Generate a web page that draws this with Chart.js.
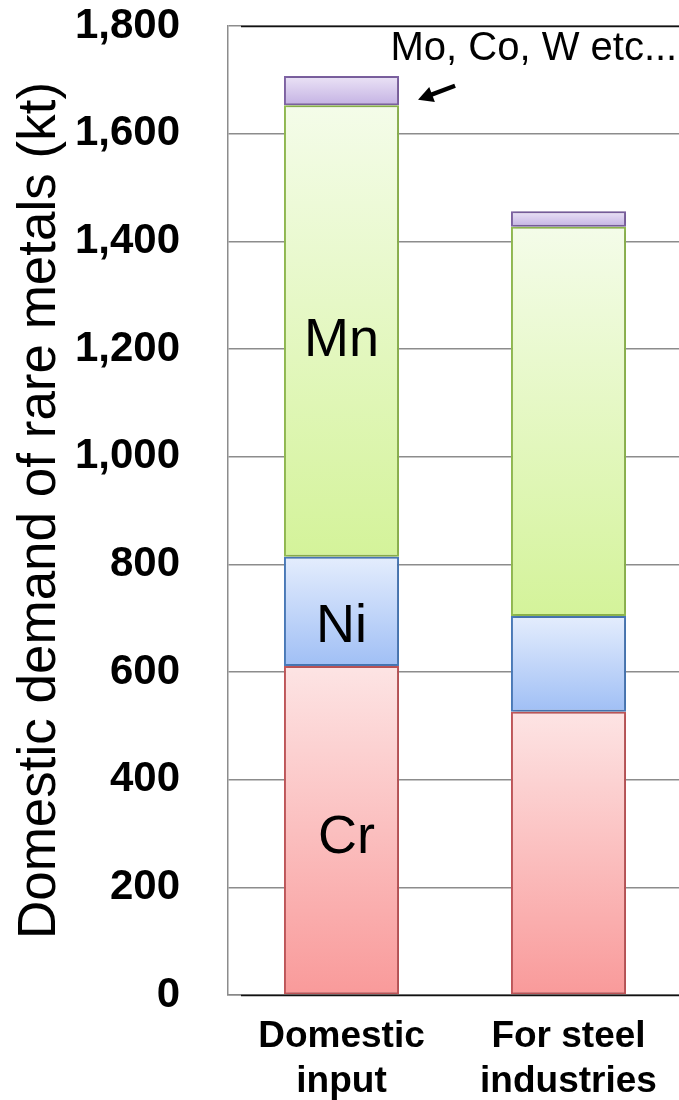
<!DOCTYPE html>
<html>
<head>
<meta charset="utf-8">
<script src="https://cdn.jsdelivr.net/npm/chart.js@4/dist/chart.umd.min.js"></script>
<style>
  html, body { margin: 0; padding: 0; background: #fff; overflow: hidden; }
  #wrap { width: 683px; height: 1100px; position: relative; }
</style>
</head>
<body>
<div id="wrap"><canvas id="c"></canvas></div>
<script>
// Domestic demand of rare metals (kt), stacked by metal
const categories = [['Domestic', 'input'], ['For steel', 'industries']];
const seriesNames = ['Cr', 'Ni', 'Mn', 'Mo, Co, W etc...'];
const crValues = [611, 526];
const niValues = [203, 178];
const mnValues = [839, 723];
const otherValues = [54, 29];
const yTicks = [0, 200, 400, 600, 800, 1000, 1200, 1400, 1600, 1800];

// labels written inside the first column, at these values
const inBarLabels = ['Cr', 'Ni', 'Mn'];
const inBarLabelValues = [292, 683, 1215];

const FONT = '"Liberation Sans", Arial, sans-serif';

// segment gradient colours: top (light) -> bottom (saturated), and border
const palette = [
  { top: '#fde4e4', bottom: '#f99a9a', border: '#c4575a' },
  { top: '#e4edfd', bottom: '#a0bff5', border: '#4a7cbd' },
  { top: '#f4fce9', bottom: '#d4f39a', border: '#93bd50' },
  { top: '#ebe3f6', bottom: '#c4b2e3', border: '#8064a6' }
];
const seriesValues = [crValues, niValues, mnValues, otherValues];

function segmentGradient(si) {
  return function (ctx) {
    const chart = ctx.chart;
    const p = palette[si];
    if (!chart.chartArea || ctx.dataIndex === undefined) return p.bottom;
    const i = ctx.dataIndex;
    let start = 0;
    for (let k = 0; k < si; k++) start += seriesValues[k][i];
    const end = start + seriesValues[si][i];
    const y = chart.scales.y;
    const g = chart.ctx.createLinearGradient(0, y.getPixelForValue(end), 0, y.getPixelForValue(start));
    g.addColorStop(0, p.top);
    g.addColorStop(1, p.bottom);
    return g;
  };
}

const datasets = seriesNames.map((name, si) => ({
  label: name,
  data: seriesValues[si],
  backgroundColor: segmentGradient(si),
  borderColor: palette[si].border,
  borderWidth: 2,
  borderSkipped: false,
  barPercentage: 1,
  categoryPercentage: 0.507
}));

const decorations = {
  id: 'decorations',
  beforeDatasetsDraw(chart) {
    // soft drop shadow around the columns
    const ctx = chart.ctx;
    ctx.save();
    ctx.shadowColor = 'rgba(0,0,0,0.22)';
    ctx.shadowBlur = 5;
    ctx.shadowOffsetX = 1;
    ctx.shadowOffsetY = 0;
  },
  afterDatasetsDraw(chart) {
    const { ctx, chartArea, scales } = chart;
    ctx.restore();
    ctx.save();
    // dark frame lines at top and base
    ctx.strokeStyle = '#111';
    ctx.lineWidth = 1.5;
    ctx.beginPath();
    ctx.moveTo(chartArea.left + 13, chartArea.top + 0.5);
    ctx.lineTo(chartArea.right, chartArea.top + 0.5);
    ctx.moveTo(chartArea.left + 13, chartArea.bottom + 0.5);
    ctx.lineTo(chartArea.right, chartArea.bottom + 0.5);
    ctx.stroke();

    // names inside the first column
    const bar = chart.getDatasetMeta(0).data[0];
    ctx.fillStyle = '#000';
    ctx.font = '54px ' + FONT;
    ctx.textAlign = 'center';
    ctx.textBaseline = 'middle';
    inBarLabels.forEach((t, k) => {
      const dx = t === 'Cr' ? 5 : 0;
      ctx.fillText(t, bar.x + dx, scales.y.getPixelForValue(inBarLabelValues[k]));
    });

    // callout for the small top segment
    const top = chart.getDatasetMeta(3).data[0];
    ctx.font = '40px ' + FONT;
    ctx.textAlign = 'left';
    ctx.textBaseline = 'middle';
    ctx.fillText(seriesNames[3], top.x + 49, chartArea.top + 23);

    const tipX = top.x + top.width / 2 + 19;
    const tipY = scales.y.getPixelForValue(1663);
    const tailX = tipX + 37, tailY = tipY - 14;
    const ang = Math.atan2(tipY - tailY, tipX - tailX);
    ctx.strokeStyle = '#000';
    ctx.lineWidth = 4.5;
    ctx.beginPath();
    ctx.moveTo(tailX, tailY);
    ctx.lineTo(tipX - 8 * Math.cos(ang), tipY - 8 * Math.sin(ang));
    ctx.stroke();
    ctx.fillStyle = '#000';
    ctx.beginPath();
    ctx.moveTo(tipX, tipY);
    ctx.lineTo(tipX - 15 * Math.cos(ang) + 8 * Math.sin(ang), tipY - 15 * Math.sin(ang) - 8 * Math.cos(ang));
    ctx.lineTo(tipX - 15 * Math.cos(ang) - 8 * Math.sin(ang), tipY - 15 * Math.sin(ang) + 8 * Math.cos(ang));
    ctx.closePath();
    ctx.fill();
    ctx.restore();
  }
};

new Chart(document.getElementById('c'), {
  type: 'bar',
  data: { labels: categories, datasets },
  options: {
    responsive: true,
    maintainAspectRatio: false,
    animation: false,
    layout: { padding: { top: 26, right: 1, left: 0, bottom: 0 } },
    plugins: { legend: { display: false }, tooltip: { enabled: false } },
    scales: {
      x: {
        stacked: true,
        afterFit(s) { s.height = 105; s.paddingLeft = 0; s.paddingRight = 0; },
        grid: { display: false, drawTicks: false },
        border: { display: true, color: '#888', width: 1.5 },
        ticks: {
          color: '#000',
          padding: 19,
          maxRotation: 0,
          font: { family: FONT, size: 37, weight: 'bold', lineHeight: 1.22 }
        }
      },
      y: {
        stacked: true,
        min: 0,
        max: 1800,
        afterFit(s) { s.width = 228; s.paddingTop = 0; s.paddingBottom = 0; },
        afterBuildTicks(s) { s.ticks = yTicks.map(v => ({ value: v })); },
        grid: { color: '#8c8c8c', lineWidth: 1.5, drawTicks: false },
        border: { display: true, color: '#8c8c8c', width: 1.5 },
        ticks: {
          color: '#000',
          padding: 48,
          font: { family: FONT, size: 42, weight: 'bold' },
          callback: v => v.toLocaleString('en-US')
        },
        title: {
          display: true,
          text: 'Domestic demand of rare metals (kt)',
          color: '#000',
          padding: { top: 14, bottom: 0 },
          font: { family: FONT, size: 53, weight: 'normal', lineHeight: 1.0 }
        }
      }
    }
  },
  plugins: [decorations]
});
</script>
</body>
</html>
